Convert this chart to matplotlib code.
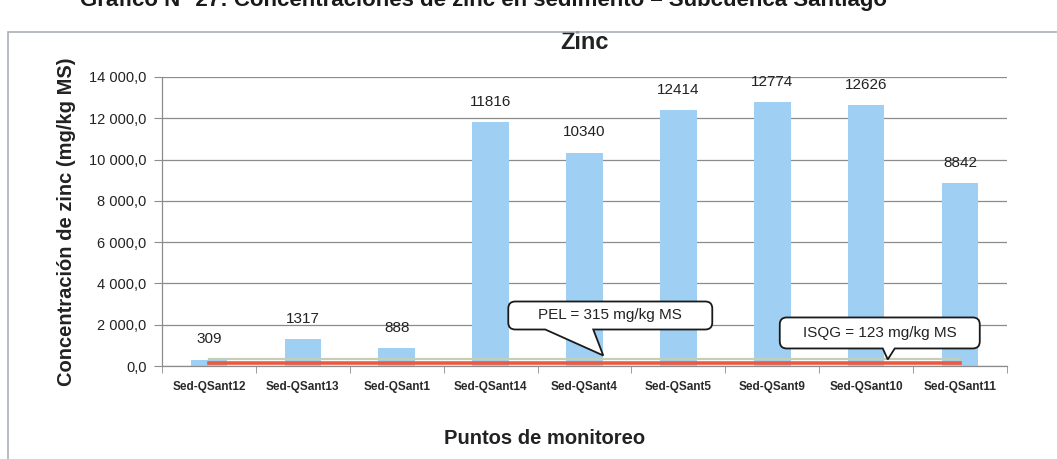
import matplotlib
matplotlib.use("Agg")
import matplotlib.pyplot as plt
import matplotlib.transforms as mtransforms
from matplotlib.path import Path
from matplotlib.patches import PathPatch, Rectangle

# ---- data ----
categories = ["Sed-QSant12", "Sed-QSant13", "Sed-QSant1", "Sed-QSant14", "Sed-QSant4",
              "Sed-QSant5", "Sed-QSant9", "Sed-QSant10", "Sed-QSant11"]
zinc_values = [309, 1317, 888, 11816, 10340, 12414, 12774, 12626, 8842]
pel_value = 315
isqg_value = 123
pel_label = "PEL = 315 mg/kg MS"
isqg_label = "ISQG = 123 mg/kg MS"
y_ticks = [0, 2000, 4000, 6000, 8000, 10000, 12000, 14000]
y_tick_labels = ["0,0", "2 000,0", "4 000,0", "6 000,0", "8 000,0", "10 000,0", "12 000,0", "14 000,0"]
title = "Zinc"
xlabel = "Puntos de monitoreo"
ylabel = "Concentración de zinc (mg/kg MS)"
caption = "Gráfico N° 27: Concentraciones de zinc en sedimento – Subcuenca Santiago"

plt.rcParams['font.family'] = ['Liberation Sans', 'DejaVu Sans']
W, H = 1057, 459
fig = plt.figure(figsize=(W / 100, H / 100), dpi=100)
fig.patch.set_facecolor("white")

# outer chart frame
fig.patches.append(Rectangle((8 / W, -0.1), 1.5, (H - 32) / H + 0.1, transform=fig.transFigure,
                             fill=False, edgecolor="#a9b0b8", linewidth=1.2))
fig.text(80 / W, 1 - 6 / H, caption, fontsize=16, fontweight="bold", color="#1a1a1a",
         ha="left", va="baseline")

ax = fig.add_axes([162 / W, (H - 366) / H, (1007 - 162) / W, (366 - 77) / H])
x = list(range(len(categories)))
ax.bar(x, zinc_values, width=0.39, color="#9fd0f3", zorder=2)
ax.plot(x, [pel_value] * len(x), color="#c4cfb4", linewidth=1.6, zorder=3)
ax.plot(x, [isqg_value] * len(x), color="#ea5a40", linewidth=2.6, zorder=3)

for xi, v in zip(x, zinc_values):
    ax.annotate(f"{v}", (xi, v), xytext=(0, 14.5), textcoords="offset points",
                ha="center", va="center", fontsize=11, color="#222222")

ax.set_xlim(-0.5, len(categories) - 0.5)
ax.set_ylim(0, 14000)
ax.set_yticks(y_ticks)
ax.set_yticklabels(y_tick_labels, fontsize=10.5, color="#222222")
ax.yaxis.grid(True, color="#8c8c8c", linewidth=0.9, zorder=0)
ax.set_axisbelow(True)
ax.set_xticks(x)
ax.set_xticklabels(categories, fontsize=8.5, fontweight="bold", color="#2a2a2a")
ax.set_xticks([i + 0.5 for i in range(-1, len(categories))], minor=True)
ax.tick_params(axis="x", which="major", length=0, pad=11)
ax.tick_params(axis="x", which="minor", length=5, color="#8c8c8c")
ax.tick_params(axis="y", length=6, color="#8c8c8c", pad=5)
for s in ["top", "right"]:
    ax.spines[s].set_visible(False)
for s in ["left", "bottom"]:
    ax.spines[s].set_color("#8c8c8c")
    ax.spines[s].set_linewidth(0.9)

ax.set_title(title, fontsize=17, fontweight="bold", color="#222222", pad=20)
ax.set_xlabel(xlabel, fontsize=14.5, fontweight="bold", color="#222222", va="center")
ax.xaxis.set_label_coords((545 - 162) / (1007 - 162), -72 / (366 - 77))
ax.set_ylabel(ylabel, fontsize=14.5, fontweight="bold", color="#222222", va="center")
ax.yaxis.set_label_coords(-95 / (1007 - 162), 0.5)


def callout(tip_x, tip_y, box, tail, text):
    # box = (x0, x1, y0, y1) pixels relative to tip (y up); tail = (left, right) base x
    x0, x1, y0, y1 = box
    tl, tr = tail
    r = 7
    verts = [(x0 + r, y0), (tl, y0), (0, 4), (tr, y0), (x1 - r, y0),
             (x1, y0), (x1, y0 + r), (x1, y1 - r), (x1, y1), (x1 - r, y1),
             (x0 + r, y1), (x0, y1), (x0, y1 - r), (x0, y0 + r), (x0, y0), (x0 + r, y0),
             (x0 + r, y0)]
    codes = [Path.MOVETO, Path.LINETO, Path.LINETO, Path.LINETO, Path.LINETO,
             Path.CURVE3, Path.CURVE3, Path.LINETO, Path.CURVE3, Path.CURVE3,
             Path.LINETO, Path.CURVE3, Path.CURVE3, Path.LINETO, Path.CURVE3, Path.CURVE3,
             Path.CLOSEPOLY]
    verts = [(a / 100, b / 100) for a, b in verts]
    trans = fig.dpi_scale_trans + mtransforms.ScaledTranslation(tip_x, tip_y, ax.transData)
    ax.add_patch(PathPatch(Path(verts, codes), transform=trans, facecolor="white",
                           edgecolor="#1a1a1a", linewidth=1.3, zorder=5, clip_on=False))
    ax.text((x0 + x1) / 200, (y0 + y1) / 200, text, transform=trans, ha="center", va="center",
            fontsize=11, color="#222222", zorder=6)


callout(4.2, pel_value, (-95, 109, 30, 58), (-58, -10), pel_label)
callout(7.23, isqg_value, (-108, 92, 15, 46), (-5, 7), isqg_label)

fig.savefig("out.png", dpi=100, facecolor="white")
